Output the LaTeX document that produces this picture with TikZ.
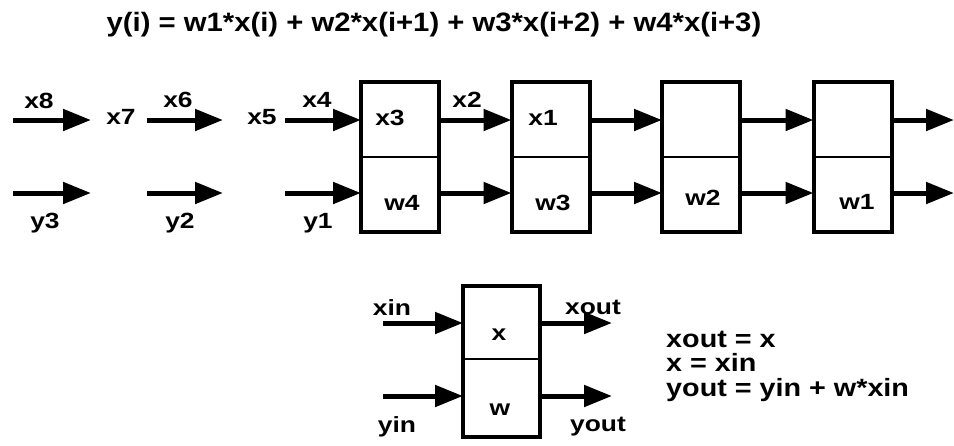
\documentclass[tikz,border=0pt]{standalone}
\usepackage{fontspec}
\setmainfont{Liberation Sans}[BoldFont={* Bold}]
\newfontfamily\lblfont{Liberation Sans Bold}[FakeStretch=1.2]
\newfontfamily\eqfont{Liberation Sans Bold}[FakeStretch=1.15]
\newfontfamily\ttlfont{Liberation Sans Bold}[FakeStretch=1.1]
\usetikzlibrary{arrows.meta}
\begin{document}
\begin{tikzpicture}[x=1pt,y=-1pt,
  lbl/.style={font=\fontsize{22}{24}\lblfont, inner sep=0pt},
  eqn/.style={font=\fontsize{25}{27}\eqfont, inner sep=0pt, anchor=base west},
  ttl/.style={font=\fontsize{26.6}{30}\ttlfont, inner sep=0pt},
  half/.style={draw, line width=2pt, minimum width=78pt, minimum height=75pt, inner sep=0pt, outer sep=0pt},
  frame/.style={draw, line width=4pt},
  conn/.style={line width=5pt, -{Triangle[length=28pt,width=21pt]}}]
\useasboundingbox (0,0) rectangle (954,445);
% title
\node[ttl] (title) at (434,25) {y(i) = w1*x(i) + w2*x(i+1) + w3*x(i+2) + w4*x(i+3)};
% cells in the chain
\node[half] (t1) at (400,119.5) {};
\node[half, anchor=north] (b1) at (t1.south) {};
\node[half] (t2) at (550.5,119.5) {};
\node[half, anchor=north] (b2) at (t2.south) {};
\node[half] (t3) at (701,119.5) {};
\node[half, anchor=north] (b3) at (t3.south) {};
\node[half] (t4) at (852.5,119.5) {};
\node[half, anchor=north] (b4) at (t4.south) {};
\foreach \i in {1,2,3,4} {\draw[frame] (t\i.north west) rectangle (b\i.south east);}
% free ends
\coordinate (ax1s) at (13,120);  \coordinate (ax1e) at (91,120);
\coordinate (ax2s) at (147,120); \coordinate (ax2e) at (223,120);
\coordinate (ax3s) at (285,120);
\coordinate (ay1s) at (13,193);  \coordinate (ay1e) at (91,193);
\coordinate (ay2s) at (147,193); \coordinate (ay2e) at (223,193);
\coordinate (ay3s) at (285,193);
\coordinate (xend) at (954,120); \coordinate (yend) at (954,193);
\draw[conn] (ax1s) -- (ax1e);
\draw[conn] (ax2s) -- (ax2e);
\draw[conn] (ax3s) -- (ax3s -| t1.west);
\draw[conn] (ay1s) -- (ay1e);
\draw[conn] (ay2s) -- (ay2e);
\draw[conn] (ay3s) -- (ay3s -| b1.west);
\foreach \i/\j in {1/2,2/3,3/4} {
  \draw[conn] (t\i.east |- ax1s) -- (t\j.west |- ax1s);
  \draw[conn] (b\i.east |- ay1s) -- (b\j.west |- ay1s);
}
\draw[conn] (t4.east |- xend) -- (xend);
\draw[conn] (b4.east |- yend) -- (yend);
% labels
\node[lbl] (l8) at (39,101) {x8};
\node[lbl] (l7) at (121,117) {x7};
\node[lbl] (l6) at (178,100) {x6};
\node[lbl] (l5) at (262,117) {x5};
\node[lbl] (l4) at (317,100) {x4};
\node[lbl] (l3) at (390,118) {x3};
\node[lbl] (l2) at (467,100) {x2};
\node[lbl] (l1) at (543,118) {x1};
\node[lbl] (ly3) at (45,223) {y3};
\node[lbl] (ly2) at (180,223) {y2};
\node[lbl] (ly1) at (318,223) {y1};
\node[lbl] (w4) at (402,203) {w4};
\node[lbl] (w3) at (553,203) {w3};
\node[lbl] (w2) at (703,198) {w2};
\node[lbl] (w1) at (857,202) {w1};
% single cell
\node[half, minimum width=77pt, minimum height=73pt] (ct) at (501.5,322.5) {};
\node[half, minimum width=77pt, minimum height=78pt, anchor=north] (cb) at (ct.south) {};
\draw[frame] (ct.north west) rectangle (cb.south east);
\coordinate (xins) at (383,323); \coordinate (yins) at (383,396);
\coordinate (xoute) at (612,323); \coordinate (youte) at (612,396);
\draw[conn] (xins) -- (xins -| ct.west);
\draw[conn] (yins) -- (yins -| cb.west);
\draw[conn] (xoute -| ct.east) -- (xoute);
\draw[conn] (youte -| cb.east) -- (youte);
\node[lbl] (lxin) at (392,308) {xin};
\node[lbl] (lx) at (499,335) {x};
\node[lbl] (lw) at (500,410) {w};
\node[lbl] (lyin) at (397,427) {yin};
\node[lbl] (lxout) at (593,307) {xout};
\node[lbl] (lyout) at (598,427) {yout};
\node[eqn] (eq1) at (666,347) {xout = x};
\node[eqn] (eq2) at (666,371) {x = xin};
\node[eqn] (eq3) at (666,396) {yout = yin + w*xin};
\end{tikzpicture}
\end{document}
